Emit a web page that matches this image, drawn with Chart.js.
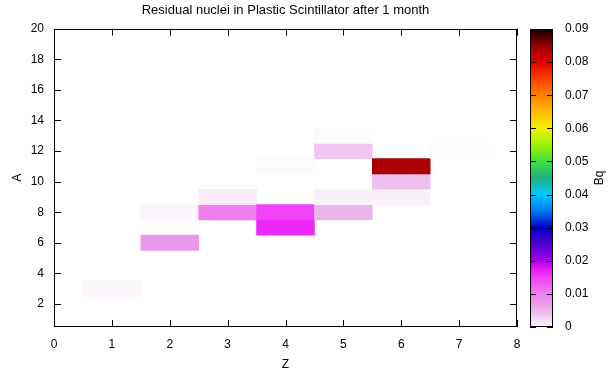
<!DOCTYPE html>
<html>
<head>
<meta charset="utf-8">
<script src="https://cdn.jsdelivr.net/npm/chart.js@4.4.1/dist/chart.umd.min.js"></script>
<style>
  html, body { margin: 0; padding: 0; background: #fff; }
  #wrap { position: relative; width: 608px; height: 372px; }
  #wrap canvas { position: absolute; left: 0; top: 0; }
</style>
</head>
<body>
<div id="wrap">
  <canvas id="heat" width="608" height="372"></canvas>
  <canvas id="cbar" width="608" height="372"></canvas>
</div>
<script>
// residual nuclei: Z, A and activity in Bq
const zValues  = [1, 2, 2, 3, 3, 4, 4, 4, 5, 5, 5, 5, 6, 6, 6, 7];
const aValues  = [3, 6, 8, 8, 9, 7, 8, 11, 8, 9, 12, 13, 9, 10, 11, 12];
const bqValues = [0.0004, 0.0075, 0.0003, 0.0100, 0.0010, 0.0165, 0.0148, 0.0001,
                  0.0050, 0.0006, 0.0038, 0.0001, 0.0006, 0.0042, 0.0835, 0.0001];

const xTicks  = [0, 1, 2, 3, 4, 5, 6, 7, 8];
const yTicks  = [2, 4, 6, 8, 10, 12, 14, 16, 18, 20];
const cbTicks = [0, 0.01, 0.02, 0.03, 0.04, 0.05, 0.06, 0.07, 0.08, 0.09];

// palette (value -> rgb)
const palVals = [0, 0.001, 0.004, 0.005, 0.0075, 0.01, 0.0125, 0.015, 0.0175, 0.02, 0.025,
                 0.03, 0.035, 0.04, 0.045, 0.05, 0.055, 0.06, 0.065, 0.07, 0.075, 0.08, 0.085, 0.09];
const palRgb = [
  [253, 252, 253], [250, 234, 250], [240, 194, 240], [232, 182, 232], [232, 152, 232],
  [240, 128, 240], [240, 96, 244], [240, 64, 248], [232, 24, 248], [168, 0, 232],
  [80, 0, 210], [0, 0, 200], [0, 120, 240], [0, 200, 255], [30, 176, 130],
  [64, 224, 64], [160, 240, 0], [240, 240, 0], [255, 184, 0], [255, 128, 0],
  [255, 64, 0], [224, 0, 0], [150, 0, 0], [16, 0, 0]
];

function bqColor(v) {
  let i = 0;
  while (i < palVals.length - 2 && v > palVals[i + 1]) i++;
  const t = Math.max(0, Math.min(1, (v - palVals[i]) / (palVals[i + 1] - palVals[i])));
  const c = palRgb[i].map((a, k) => Math.round(a + (palRgb[i + 1][k] - a) * t));
  return `rgb(${c[0]},${c[1]},${c[2]})`;
}

const FAMILY = "'Liberation Sans', Arial, sans-serif";
const FONT = { family: FAMILY, size: 12 };
Chart.defaults.color = "#000";

// gnuplot style frame with inward ticks on all sides
const frameTicks = {
  id: "frameTicks",
  afterDatasetsDraw(chart, args, opts) {
    const { ctx, chartArea: a, scales } = chart;
    const len = opts.len || 7;
    ctx.save();
    ctx.strokeStyle = "#000";
    ctx.lineWidth = 1;
    ctx.beginPath();
    if (opts.xTicks) {
      opts.xTicks.forEach(v => {
        const px = Math.round(scales.x.getPixelForValue(v)) + 0.5;
        ctx.moveTo(px, a.bottom); ctx.lineTo(px, a.bottom - len);
        ctx.moveTo(px, a.top); ctx.lineTo(px, a.top + len);
      });
    }
    opts.yTicks.forEach(v => {
      const py = Math.round(scales.y.getPixelForValue(v)) + 0.5;
      ctx.moveTo(a.left, py); ctx.lineTo(a.left + len, py);
      ctx.moveTo(a.right, py); ctx.lineTo(a.right - len, py);
    });
    ctx.stroke();
    ctx.strokeRect(Math.round(a.left) + 0.5, Math.round(a.top) + 0.5,
                   Math.round(a.width) - 1, Math.round(a.height) - 1);
    // rotated label (bottom to top), like gnuplot's cblabel
    if (opts.label) {
      ctx.fillStyle = "#000";
      ctx.font = `12px ${FAMILY}`;
      ctx.textAlign = "center";
      ctx.textBaseline = "middle";
      ctx.translate(opts.labelX, (a.top + a.bottom) / 2);
      ctx.rotate(-Math.PI / 2);
      ctx.fillText(opts.label, 0, 0);
    }
    ctx.restore();
  }
};

// HEATMAP
new Chart(document.getElementById("heat"), {
  type: "bar",
  data: {
    datasets: [{
      data: zValues.map((z, i) => ({ x: z, y: [aValues[i] - 0.5, aValues[i] + 0.5] })),
      backgroundColor: bqValues.map(bqColor),
      borderWidth: 0,
      barPercentage: 1,
      categoryPercentage: 1
    }]
  },
  options: {
    responsive: false,
    animation: false,
    layout: { padding: { left: 0, right: 91, top: 0, bottom: 0 } },
    plugins: {
      legend: { display: false },
      tooltip: { enabled: false },
      title: {
        display: true,
        fullSize: false,
        text: "Residual nuclei in Plastic Scintillator after 1 month",
        font: { family: FAMILY, size: 13, weight: "normal" },
        color: "#000",
        padding: { top: 3, bottom: 10 }
      },
      frameTicks: { xTicks: xTicks, yTicks: yTicks, len: 7 }
    },
    scales: {
      x: {
        type: "linear",
        offset: false,
        min: 0,
        max: 8,
        afterBuildTicks: s => { s.ticks = xTicks.map(v => ({ value: v })); },
        afterFit: s => { s.height = 45; },
        grid: { display: false, drawTicks: false },
        border: { display: false },
        ticks: { font: FONT, padding: 10, maxRotation: 0 },
        title: { display: true, text: "Z", font: FONT, padding: { top: 2, bottom: 0 } }
      },
      y: {
        type: "linear",
        min: 0.5,
        max: 20,
        afterBuildTicks: s => { s.ticks = yTicks.map(v => ({ value: v })); },
        afterFit: s => { s.width = 54; },
        grid: { display: false, drawTicks: false },
        border: { display: false },
        ticks: { font: FONT, padding: 10 },
        title: { display: true, text: "A", font: FONT, padding: { top: 10, bottom: 0 } }
      }
    }
  },
  plugins: [frameTicks]
});

// COLORBAR
new Chart(document.getElementById("cbar"), {
  type: "bar",
  data: {
    labels: ["Bq"],
    datasets: [{
      data: [[cbTicks[0], cbTicks[cbTicks.length - 1]]],
      backgroundColor: ctx => {
        const { chart } = ctx;
        if (!chart.chartArea) return "#fff";
        const y = chart.scales.y;
        const y0 = y.getPixelForValue(cbTicks[0]);
        const y1 = y.getPixelForValue(cbTicks[cbTicks.length - 1]);
        const g = chart.ctx.createLinearGradient(0, y0, 0, y1);
        const span = cbTicks[cbTicks.length - 1];
        palVals.forEach(v => g.addColorStop(v / span, bqColor(v)));
        return g;
      },
      borderWidth: 0,
      barPercentage: 1,
      categoryPercentage: 1
    }]
  },
  options: {
    responsive: false,
    animation: false,
    layout: { padding: { left: 530, right: 0, top: 29, bottom: 45 } },
    plugins: {
      legend: { display: false },
      tooltip: { enabled: false },
      frameTicks: { yTicks: cbTicks, len: 6, label: "Bq", labelX: 600 }
    },
    scales: {
      x: { display: false },
      y: {
        position: "right",
        min: 0,
        max: 0.09,
        afterBuildTicks: s => { s.ticks = cbTicks.map(v => ({ value: v })); },
        afterFit: s => { s.width = 55; },
        grid: { display: false, drawTicks: false },
        border: { display: false },
        ticks: {
          font: FONT,
          padding: 12,
          callback: v => (v === 0 ? "0" : v.toFixed(2))
        }
      }
    }
  },
  plugins: [frameTicks]
});
</script>
</body>
</html>
